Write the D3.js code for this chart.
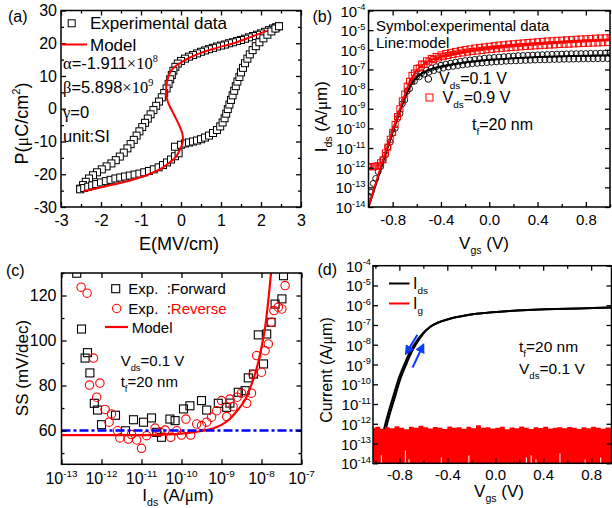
<!DOCTYPE html>
<html><head><meta charset="utf-8">
<script src="https://cdn.jsdelivr.net/npm/d3@7"></script>
<style>body{margin:0;background:#fff}svg{display:block}text{font-family:"Liberation Sans",Arial,sans-serif;white-space:pre}</style>
</head><body>
<svg id="c" width="612" height="508"></svg>
<script>
// ---------- Panel (a): P-E loop ----------
const aUpperE=[2.45,2.38,2.3,2.2,2.1,2.0,1.9,1.8,1.7,1.6,1.5,1.4,1.3,1.2,1.1,1.0,0.9,0.8,0.7,0.6,0.5,0.4,0.3,0.2,0.1,0.0,-0.08,-0.14,-0.19,-0.23,-0.27,-0.31,-0.36,-0.42,-0.48,-0.55,-0.62,-0.69,-0.76,-0.83,-0.9,-0.97,-1.04,-1.11,-1.18,-1.26,-1.34,-1.43,-1.53,-1.63,-1.74,-1.86,-1.98,-2.1,-2.2,-2.3,-2.38,-2.45,-2.52];
const aUpperP=[25.2,24.9,24.5,24.0,23.5,23.0,22.6,22.2,21.8,21.4,21.0,20.7,20.3,20.0,19.6,19.3,19.0,18.6,18.2,17.8,17.4,16.9,16.4,15.9,15.3,14.6,13.8,12.8,11.6,10.3,9.0,7.6,6.2,4.8,3.5,2.2,0.9,-0.4,-1.7,-3.0,-4.3,-5.6,-6.9,-8.2,-9.5,-10.8,-12.1,-13.4,-14.6,-15.7,-16.7,-17.6,-18.5,-19.4,-20.3,-21.3,-22.3,-23.3,-24.4];
const aLowerE=[-2.52,-2.42,-2.32,-2.22,-2.12,-2.0,-1.88,-1.76,-1.64,-1.52,-1.4,-1.28,-1.16,-1.04,-0.92,-0.8,-0.68,-0.56,-0.45,-0.35,-0.25,-0.15,-0.06,-0.15,0.0,0.1,0.2,0.3,0.4,0.5,0.6,0.7,0.8,0.9,0.98,1.04,1.09,1.13,1.17,1.21,1.25,1.29,1.33,1.37,1.41,1.46,1.5,1.55,1.6,1.66,1.72,1.79,1.87,1.96,2.06,2.16,2.26,2.36,2.45];
const aLowerP=[-24.6,-24.2,-23.8,-23.4,-23.0,-22.5,-22.1,-21.7,-21.3,-21.0,-20.7,-20.4,-20.1,-19.8,-19.4,-19.0,-18.5,-17.9,-17.2,-16.4,-15.5,-14.5,-13.6,-11.6,-11.0,-10.6,-10.3,-10.0,-9.7,-9.3,-8.8,-8.2,-7.4,-6.5,-5.4,-4.2,-2.9,-1.5,-0.1,1.3,2.7,4.1,5.5,6.9,8.3,9.7,11.1,12.5,13.9,15.3,16.6,17.9,19.1,20.3,21.5,22.6,23.6,24.5,25.2];
const aModelE=[-2.44,-2.0,-1.5,-1.19,-0.8,-0.5,-0.36,-0.2,-0.1,-0.03,0.03,0.05,0.03,-0.03,-0.11,-0.2,-0.28,-0.34,-0.37,-0.37,-0.34,-0.28,-0.18,-0.03,0.2,0.48,0.9,1.31,1.7,2.14];
const aModelP=[-25.2,-24.0,-22.6,-21.6,-20.0,-18.3,-17.1,-15.6,-14.2,-12.5,-10.8,-9.5,-7.4,-5.5,-3.4,-1.2,0.7,2.5,4.5,6.5,8.7,10.9,12.6,13.9,15.5,17.0,18.6,20.0,21.7,23.8];
const aXTicks=[-3,-2,-1,0,1,2,3];
const aYTicks=[-30,-20,-10,0,10,20,30];

// ---------- Panel (b): transfer curves (log10 of Ids, A/um) ----------
const bVa=[-1.00,-0.96,-0.92,-0.88,-0.84,-0.80,-0.76,-0.72,-0.68,-0.64,-0.60,-0.56,-0.52,-0.48,-0.44,-0.40,-0.36,-0.32,-0.28,-0.24,-0.20,-0.16,-0.12,-0.08,-0.04,0.00,0.04,0.08,0.12,0.16,0.20,0.24,0.28,0.32,0.36,0.40,0.44,0.48,0.52,0.56,0.60,0.64,0.68,0.72,0.76,0.80,0.84,0.88,0.92,0.96,1.00];
const bVb=[-0.98,-0.94,-0.90,-0.86,-0.82,-0.78,-0.74,-0.70,-0.66,-0.62,-0.58,-0.54,-0.50,-0.46,-0.42,-0.38,-0.34,-0.30,-0.26,-0.22,-0.18,-0.14,-0.10,-0.06,-0.02,0.02,0.06,0.10,0.14,0.18,0.22,0.26,0.30,0.34,0.38,0.42,0.46,0.50,0.54,0.58,0.62,0.66,0.70,0.74,0.78,0.82,0.86,0.90,0.94,0.98];
const bExp01a=[-13.45,-12.8,-12.2,-11.6,-10.95,-10.25,-9.5,-8.75,-8.1,-7.62,-7.35,-7.17,-7.04,-6.94,-6.86,-6.79,-6.73,-6.68,-6.63,-6.59,-6.55,-6.52,-6.49,-6.46,-6.43,-6.41,-6.39,-6.37,-6.35,-6.33,-6.32,-6.30,-6.29,-6.28,-6.27,-6.26,-6.25,-6.24,-6.23,-6.22,-6.22,-6.21,-6.20,-6.20,-6.19,-6.19,-6.18,-6.18,-6.17,-6.17,-6.16];
const bExp01b=[-13.25,-12.55,-11.95,-11.35,-10.7,-10.0,-9.25,-8.55,-7.98,-7.6,-7.38,-7.24,-7.14,-7.06,-6.99,-6.93,-6.88,-6.84,-6.80,-6.77,-6.74,-6.71,-6.69,-6.67,-6.65,-6.63,-6.61,-6.60,-6.58,-6.57,-6.56,-6.55,-6.54,-6.53,-6.52,-6.51,-6.51,-6.50,-6.49,-6.49,-6.48,-6.48,-6.47,-6.47,-6.46,-6.46,-6.46,-6.45,-6.45,-6.45];
const bExp09a=[-11.95,-11.95,-11.9,-11.6,-10.95,-10.2,-9.4,-8.6,-7.85,-7.3,-6.95,-6.72,-6.56,-6.44,-6.34,-6.26,-6.19,-6.13,-6.08,-6.03,-5.99,-5.95,-5.91,-5.88,-5.85,-5.82,-5.79,-5.76,-5.74,-5.71,-5.69,-5.67,-5.65,-5.63,-5.61,-5.59,-5.57,-5.55,-5.54,-5.52,-5.51,-5.49,-5.48,-5.46,-5.45,-5.44,-5.42,-5.41,-5.40,-5.39,-5.38];
const bExp09b=[-11.95,-11.92,-11.75,-11.25,-10.55,-9.8,-9.0,-8.25,-7.6,-7.18,-6.92,-6.74,-6.61,-6.5,-6.42,-6.35,-6.29,-6.24,-6.2,-6.16,-6.12,-6.09,-6.06,-6.03,-6.0,-5.98,-5.95,-5.93,-5.91,-5.89,-5.87,-5.85,-5.83,-5.82,-5.8,-5.79,-5.77,-5.76,-5.75,-5.73,-5.72,-5.71,-5.7,-5.69,-5.68,-5.67,-5.66,-5.65,-5.64,-5.63];
const bModelV=[-1,-0.95,-0.9,-0.85,-0.8,-0.75,-0.7,-0.65,-0.6,-0.55,-0.5,-0.45,-0.4,-0.3,-0.2,-0.1,0,0.2,0.4,0.6,0.8,1.0];
const bModel01=[-14,-13.05,-12.1,-11.15,-10.2,-9.3,-8.45,-7.8,-7.4,-7.17,-7.03,-6.93,-6.85,-6.73,-6.64,-6.57,-6.51,-6.43,-6.37,-6.33,-6.3,-6.28];
const bModel09=[-14,-13.0,-12.0,-11.05,-10.1,-9.2,-8.3,-7.55,-7.05,-6.77,-6.58,-6.45,-6.35,-6.2,-6.08,-5.98,-5.9,-5.77,-5.67,-5.59,-5.52,-5.47];
const bXTicks=[-0.8,-0.4,0,0.4,0.8];
const bXMinor=[-1.0,-0.6,-0.2,0.2,0.6,1.0];
const decExp=[-14,-13,-12,-11,-10,-9,-8,-7,-6,-5,-4];

// ---------- Panel (c): SS vs Ids ----------
const cFwdLogI=[-12.62,-12.5,-12.41,-12.35,-12.29,-12.18,-12.1,-12.0,-11.65,-11.4,-11.2,-10.95,-10.75,-10.62,-10.5,-10.29,-10.16,-9.95,-9.79,-9.5,-9.37,-9.08,-8.87,-8.79,-8.58,-8.41,-8.33,-8.2,-8.08,-7.95,-7.87,-7.76,-7.66,-7.49,-7.45];
const cFwdSS=[129.9,105.1,92.2,94.6,85.6,72.1,69.1,62.6,66.8,59.9,64.8,63.7,65.6,59.2,57.0,65.1,64.4,69.6,71.0,73.3,69.1,72.1,70.3,72.2,77.0,77.7,83.4,85.1,102.5,89.6,102.9,108.1,116.2,118.5,128.8];
const cRevLogI=[-12.51,-12.36,-12.2,-12.3,-12.04,-12.12,-11.91,-11.81,-11.75,-11.6,-11.54,-11.33,-11.25,-11.12,-11.0,-10.87,-10.66,-10.54,-10.41,-10.27,-10.12,-10.0,-9.89,-9.77,-9.62,-9.5,-9.37,-9.25,-9.12,-9.0,-8.87,-8.79,-8.71,-8.61,-8.5,-8.37,-8.25,-8.21,-8.12,-8.0,-7.91,-7.83,-7.75,-7.69,-7.58,-7.49,-7.41];
const cRevSS=[123.7,121.0,92.2,80.2,81.1,74.8,69.4,63.7,67.4,59.9,56.7,56.2,58.2,55.8,52.1,57.7,61.1,59.4,60.2,57.0,59.9,58.0,65.1,58.0,62.9,62.2,63.7,65.9,68.8,73.3,66.2,74.0,70.6,74.8,76.6,72.1,76.6,84.8,93.3,85.9,95.5,98.5,108.1,113.3,114.8,114.0,124.4];
const cModelLogI=[-13,-12,-11,-10.5,-10,-9.5,-9.2,-9.0,-8.8,-8.6,-8.4,-8.2,-8.1,-8.0,-7.9,-7.8,-7.74];
const cModelSS=[58,58,58,58.2,58.6,59.8,61,62.5,65,69,74,83,89,97,107,123,134];
const cRef=60;
const cXExp=[-13,-12,-11,-10,-9,-8,-7];
const cYTicks=[60,80,100,120];
const cYMinor=[50,70,90,110,130];

// ---------- Panel (d): Ids and Ig ----------
const dVf=[-0.95,-0.91,-0.87,-0.83,-0.79,-0.74,-0.70,-0.66,-0.62,-0.58,-0.53,-0.47,-0.40,-0.33,-0.26,-0.19,-0.10,0.01,0.12,0.23,0.37,0.51,0.70,0.97];
const dIdsF=[-13.6,-12.2,-11.3,-10.5,-9.7,-8.95,-8.4,-7.96,-7.6,-7.3,-7.05,-6.86,-6.72,-6.61,-6.53,-6.46,-6.4,-6.34,-6.29,-6.25,-6.22,-6.19,-6.16,-6.12];
const dVr=[-0.965,-0.925,-0.885,-0.845,-0.805,-0.755,-0.715,-0.672,-0.63,-0.585,-0.535,-0.47,-0.40,-0.33,-0.26,-0.19,-0.10,0.01,0.12,0.23,0.37,0.51,0.70,0.97];
const dIdsR=[-13.6,-12.2,-11.3,-10.5,-9.7,-8.95,-8.4,-7.96,-7.6,-7.3,-7.05,-6.86,-6.72,-6.61,-6.53,-6.46,-6.4,-6.34,-6.29,-6.25,-6.22,-6.19,-6.16,-6.12];
const dIgV=[-1.02,-0.98,-0.94,-0.90,-0.86,-0.82,-0.78,-0.74,-0.70,-0.66,-0.62,-0.58,-0.54,-0.50,-0.46,-0.42,-0.38,-0.34,-0.30,-0.26,-0.22,-0.18,-0.14,-0.10,-0.06,-0.02,0.02,0.06,0.10,0.14,0.18,0.22,0.26,0.30,0.34,0.38,0.42,0.46,0.50,0.54,0.58,0.62,0.66,0.70,0.74,0.78,0.82,0.86,0.90,0.94,0.97];
const dIgTop=[-12.2,-12.15,-12.25,-12.18,-12.22,-12.12,-12.2,-12.28,-12.15,-12.2,-12.1,-12.18,-12.24,-12.16,-12.2,-12.26,-12.14,-12.2,-12.18,-12.25,-12.15,-12.22,-12.08,-12.2,-12.17,-12.24,-12.2,-12.15,-12.28,-12.19,-12.22,-12.14,-12.2,-12.26,-12.18,-12.21,-12.15,-12.24,-12.2,-12.17,-12.23,-12.16,-12.2,-12.27,-12.18,-12.22,-12.15,-12.2,-12.25,-12.19,-12.2];
const dGapV=[-0.95,-0.75,-0.72,-0.45,-0.22,0.26,0.30,0.34,0.54,0.75,0.88];
const dGapTop=[-13.6,-13.35,-13.8,-13.7,-13.6,-13.7,-13.6,-13.8,-13.5,-13.8,-13.7];
const dArrowV=[[-0.65,-0.745],[-0.69,-0.60]];
const dArrowI=[[-7.5,-8.45],[-9.15,-8.0]];

// ---------- helpers ----------
const svg=d3.select('#c');
svg.append('rect').attr('width',612).attr('height',508).attr('fill','#fff');
const SERIF='"Liberation Serif","Times New Roman",serif';
const P10=e=>Math.pow(10,e);

function rich(g,x,y,parts,size,opt){
  opt=opt||{};
  const t=g.append('text').attr('x',x).attr('y',y).attr('font-size',size).attr('fill',opt.fill||'#000');
  if(opt.anchor) t.attr('text-anchor',opt.anchor);
  if(opt.transform) t.attr('transform',opt.transform);
  let off=0;
  parts.forEach(p=>{
    const s=t.append('tspan').text(p.t);
    let target=0,fs=null;
    if(p.sub){target=0.32*size;fs=0.62*size;}
    if(p.sup){target=-0.42*size;fs=(p.ss||0.62)*size;}
    s.attr('dy',target-off);off=target;
    if(fs) s.attr('font-size',fs);
    if(p.c) s.attr('fill',p.c);
    if(p.f) s.attr('font-family',p.f);
  });
  return t;
}

function frame(g,x,y,o){
  const [x0,x1]=x.range(),[yb,yt]=y.range();
  const mk=(axisFn,tr,vals,size,fmt,pad)=>{
    const a=axisFn.tickValues(vals).tickSizeInner(-size).tickSizeOuter(0).tickPadding(pad||6).tickFormat(fmt||(()=>''));
    const gg=g.append('g').attr('transform',tr).call(a);
    gg.select('.domain').remove();
    gg.selectAll('line').attr('stroke','#000').attr('stroke-width',1.3);
    gg.selectAll('text').attr('font-size',o.fs||15).attr('font-family','"Liberation Sans",Arial,sans-serif').attr('fill','#000');
    return gg;
  };
  mk(d3.axisBottom(x),`translate(0,${yb})`,o.xMajor,5,o.xFmt,o.xPad);
  mk(d3.axisTop(x),`translate(0,${yt})`,o.xMajor,5);
  if(o.xMinor){mk(d3.axisBottom(x),`translate(0,${yb})`,o.xMinor,3);mk(d3.axisTop(x),`translate(0,${yt})`,o.xMinor,3);}
  mk(d3.axisLeft(y),`translate(${x0},0)`,o.yMajor,5,o.yFmt,o.yPad);
  mk(d3.axisRight(y),`translate(${x1},0)`,o.yMajor,5);
  if(o.yMinor){mk(d3.axisLeft(y),`translate(${x0},0)`,o.yMinor,3);mk(d3.axisRight(y),`translate(${x1},0)`,o.yMinor,3);}
  g.append('rect').attr('x',x0).attr('y',yt).attr('width',x1-x0).attr('height',yb-yt)
    .attr('fill','none').attr('stroke','#000').attr('stroke-width',1.5);
}
function clip(id,x,y){
  const [x0,x1]=x.range(),[yb,yt]=y.range();
  svg.append('clipPath').attr('id',id).append('rect').attr('x',x0).attr('y',yt).attr('width',x1-x0).attr('height',yb-yt);
}
const fmtLin=d=>String(d).replace('−','-');
const fmt1=d=>d3.format('.1f')(d).replace('−','-');

// ================= (a) =================
{
  const x=d3.scaleLinear().domain([-3,3]).range([61,301]);
  const y=d3.scaleLinear().domain([-30,30]).range([207,10.5]);
  const g=svg.append('g');
  clip('ca',x,y);
  const pg=g.append('g').attr('clip-path','url(#ca)');
  const sq=(E,P)=>E.map((e,i)=>[e,P[i]]);
  const s=7;
  pg.selectAll('rect.u').data(sq(aUpperE,aUpperP)).join('rect')
    .attr('x',d=>x(d[0])-s/2).attr('y',d=>y(d[1])-s/2).attr('width',s).attr('height',s)
    .attr('fill','#fff').attr('stroke','#000').attr('stroke-width',1);
  pg.selectAll('rect.l').data(sq(aLowerE,aLowerP)).join('rect')
    .attr('x',d=>x(d[0])-s/2).attr('y',d=>y(d[1])-s/2).attr('width',s).attr('height',s)
    .attr('fill','#fff').attr('stroke','#000').attr('stroke-width',1);
  pg.append('path').datum(sq(aModelE,aModelP))
    .attr('d',d3.line().x(d=>x(d[0])).y(d=>y(d[1])).curve(d3.curveCatmullRom))
    .attr('fill','none').attr('stroke','#ff0000').attr('stroke-width',2);
  frame(g,x,y,{xMajor:aXTicks,xMinor:[-2.5,-1.5,-0.5,0.5,1.5,2.5],yMajor:aYTicks,yMinor:[-25,-15,-5,5,15,25],
    xFmt:fmtLin,yFmt:fmtLin,xPad:8,yPad:4,fs:16});
  g.append('rect').attr('x',71.7-3.5).attr('y',23.3-3.5).attr('width',7).attr('height',7).attr('fill','#fff').attr('stroke','#000');
  g.append('text').attr('x',90).attr('y',29).attr('font-size',17).text('Experimental data');
  g.append('line').attr('x1',61).attr('x2',87).attr('y1',44.5).attr('y2',44.5).attr('stroke','#ff0000').attr('stroke-width',2);
  g.append('text').attr('x',90).attr('y',50.5).attr('font-size',17).text('Model');
  rich(g,63,69,[{t:'α',f:SERIF},{t:'=-1.911'},{t:'×10',f:SERIF},{t:'8',sup:true,f:SERIF}],16.5);
  rich(g,63,93,[{t:'β',f:SERIF},{t:'=5.898'},{t:'×10',f:SERIF},{t:'9',sup:true,f:SERIF}],16.5);
  rich(g,63,118,[{t:'γ',f:SERIF},{t:'=0'}],16.5);
  g.append('text').attr('x',63).attr('y',142).attr('font-size',16.5).text('unit:SI');
  g.append('text').attr('x',8).attr('y',22).attr('font-size',16).text('(a)');
  g.append('text').attr('x',179).attr('y',250).attr('font-size',18).attr('text-anchor','middle').text('E(MV/cm)');
  rich(g,0,0,[{t:'P('},{t:'μ',f:SERIF},{t:'C/cm'},{t:'2',sup:true},{t:')'}],18,{anchor:'middle',transform:'translate(28,123.5) rotate(-90)'});
}

// ================= (b) =================
{
  const x=d3.scaleLinear().domain([-1,1]).range([368.5,610]);
  const y=d3.scaleLog().domain([1e-14,1e-4]).range([207,10.5]);
  const g=svg.append('g');
  clip('cb',x,y);
  const pg=g.append('g').attr('clip-path','url(#cb)');
  const circ=(V,L)=>V.map((v,i)=>[v,L[i]]);
  [circ(bVa,bExp01a),circ(bVb,bExp01b)].forEach(arr=>{
    pg.append('g').selectAll('circle').data(arr).join('circle')
      .attr('cx',d=>x(d[0])).attr('cy',d=>y(P10(d[1]))).attr('r',3)
      .attr('fill','none').attr('stroke','#000').attr('stroke-width',0.9);
  });
  [circ(bVa,bExp09a),circ(bVb,bExp09b)].forEach(arr=>{
    pg.append('g').selectAll('rect').data(arr).join('rect')
      .attr('x',d=>x(d[0])-3).attr('y',d=>y(P10(d[1]))-3).attr('width',6).attr('height',6)
      .attr('fill','none').attr('stroke','#ff0000').attr('stroke-width',1);
  });
  const ln=d3.line().x(d=>x(d[0])).y(d=>y(P10(d[1]))).curve(d3.curveCatmullRom);
  pg.append('path').datum(circ(bModelV,bModel01)).attr('d',ln).attr('fill','none').attr('stroke','#000').attr('stroke-width',2);
  pg.append('path').datum(circ(bModelV,bModel09)).attr('d',ln).attr('fill','none').attr('stroke','#ff0000').attr('stroke-width',2);
  frame(g,x,y,{xMajor:bXTicks,xMinor:bXMinor,yMajor:decExp.map(P10),xFmt:fmt1,xPad:7,fs:15});
  decExp.forEach(e=>rich(g,365.5,y(P10(e))+6,[{t:'10'},{t:String(e),sup:true}],15,{anchor:'end'}));
  g.append('text').attr('x',376).attr('y',31).attr('font-size',15).text('Symbol:experimental data');
  g.append('text').attr('x',376).attr('y',48).attr('font-size',15).text('Line:model');
  g.append('circle').attr('cx',428.3).attr('cy',79).attr('r',3.3).attr('fill','none').attr('stroke','#000');
  rich(g,439,84,[{t:'V'},{t:'ds',sub:true},{t:'=0.1 V'}],16);
  g.append('rect').attr('x',426).attr('y',94).attr('width',7).attr('height',7).attr('fill','none').attr('stroke','#ff0000');
  rich(g,442.5,103,[{t:'V'},{t:'ds',sub:true},{t:'=0.9 V'}],16);
  rich(g,472,130,[{t:'t'},{t:'f',sub:true},{t:'=20 nm'}],16);
  g.append('text').attr('x',312.5).attr('y',22).attr('font-size',16).text('(b)');
  rich(g,484,249,[{t:'V'},{t:'gs',sub:true},{t:' (V)'}],17,{anchor:'middle'});
  rich(g,0,0,[{t:'I'},{t:'ds',sub:true},{t:' (A/'},{t:'μ',f:SERIF},{t:'m)'}],17,{anchor:'middle',transform:'translate(327,116.7) rotate(-90)'});
}

// ================= (c) =================
{
  const x=d3.scaleLog().domain([1e-13,1e-7]).range([61.5,301.5]);
  const y=d3.scaleLinear().domain([45,130]).range([464.3,273]);
  const g=svg.append('g');
  clip('cc',x,y);
  const pg=g.append('g').attr('clip-path','url(#cc)');
  const pr=(L,S)=>L.map((l,i)=>[l,S[i]]);
  pg.append('g').selectAll('rect').data(pr(cFwdLogI,cFwdSS)).join('rect')
    .attr('x',d=>x(P10(d[0]))-4).attr('y',d=>y(d[1])-4).attr('width',8).attr('height',8)
    .attr('fill','none').attr('stroke','#000').attr('stroke-width',1.1);
  pg.append('g').selectAll('circle').data(pr(cRevLogI,cRevSS)).join('circle')
    .attr('cx',d=>x(P10(d[0]))).attr('cy',d=>y(d[1])).attr('r',4.2)
    .attr('fill','none').attr('stroke','#ff0000').attr('stroke-width',1.1);
  pg.append('path').datum(pr(cModelLogI,cModelSS))
    .attr('d',d3.line().x(d=>x(P10(d[0]))).y(d=>y(d[1])).curve(d3.curveMonotoneX))
    .attr('fill','none').attr('stroke','#ff0000').attr('stroke-width',2.2);
  pg.append('line').attr('x1',x.range()[0]).attr('x2',x.range()[1]).attr('y1',y(cRef)).attr('y2',y(cRef))
    .attr('stroke','#0000ff').attr('stroke-width',2.5).attr('stroke-dasharray','9,3,3,3');
  frame(g,x,y,{xMajor:cXExp.map(P10),yMajor:cYTicks,yMinor:cYMinor,yFmt:fmtLin,yPad:5,fs:16});
  cXExp.forEach(e=>rich(g,x(P10(e)),484,[{t:'10'},{t:String(e),sup:true}],16,{anchor:'middle'}));
  g.append('rect').attr('x',115.7-4).attr('y',288.7-4).attr('width',8).attr('height',8).attr('fill','none').attr('stroke','#000').attr('stroke-width',1.1);
  g.append('text').attr('x',128.3).attr('y',294).attr('font-size',15).text('Exp.  :Forward');
  g.append('circle').attr('cx',116.7).attr('cy',308.5).attr('r',4.2).attr('fill','none').attr('stroke','#ff0000').attr('stroke-width',1.1);
  rich(g,128.3,314,[{t:'Exp.  :'},{t:'Reverse',c:'#ff0000'}],15);
  g.append('line').attr('x1',105).attr('x2',128).attr('y1',327).attr('y2',327).attr('stroke','#ff0000').attr('stroke-width',2.2);
  g.append('text').attr('x',131.7).attr('y',332.5).attr('font-size',15).text('Model');
  rich(g,120.7,365.7,[{t:'V'},{t:'ds',sub:true},{t:'=0.1 V'}],15);
  rich(g,120.7,387.3,[{t:'t'},{t:'f',sub:true},{t:'=20 nm'}],15);
  g.append('text').attr('x',6).attr('y',276).attr('font-size',16).text('(c)');
  rich(g,178,501,[{t:'I'},{t:'ds',sub:true},{t:' (A/'},{t:'μ',f:SERIF},{t:'m)'}],17,{anchor:'middle'});
  g.append('text').attr('font-size',17).attr('text-anchor','middle').attr('transform','translate(28,368) rotate(-90)').text('SS (mV/dec)');
}

// ================= (d) =================
{
  const x=d3.scaleLinear().domain([-1.02,0.97]).range([373,611.5]);
  const y=d3.scaleLog().domain([1e-14,1e-4]).range([463.3,265.7]);
  const g=svg.append('g');
  clip('cd',x,y);
  const pg=g.append('g').attr('clip-path','url(#cd)');
  const pr=(V,L)=>V.map((v,i)=>[v,L[i]]);
  const ln=d3.line().x(d=>x(d[0])).y(d=>y(P10(d[1]))).curve(d3.curveCatmullRom);
  pg.append('path').datum(pr(dVf,dIdsF)).attr('d',ln).attr('fill','none').attr('stroke','#000').attr('stroke-width',2);
  pg.append('path').datum(pr(dVr,dIdsR)).attr('d',ln).attr('fill','none').attr('stroke','#000').attr('stroke-width',2);
  pg.append('path').datum(pr(dIgV,dIgTop))
    .attr('d',d3.area().x(d=>x(d[0])).y0(y(1e-14)).y1(d=>y(P10(d[1]))).curve(d3.curveStep))
    .attr('fill','#ff0000');
  pg.append('g').selectAll('line').data(pr(dGapV,dGapTop)).join('line')
    .attr('x1',d=>x(d[0])).attr('x2',d=>x(d[0])).attr('y1',y(1e-14)).attr('y2',d=>y(P10(d[1])))
    .attr('stroke','#fff').attr('stroke-width',1);
  const defs=svg.append('defs');
  defs.append('marker').attr('id','ah').attr('viewBox','0 0 10 10').attr('refX',8).attr('refY',5)
    .attr('markerWidth',5).attr('markerHeight',5).attr('orient','auto')
    .append('path').attr('d','M0,0 L10,5 L0,10 Z').attr('fill','#0a3cff');
  dArrowV.forEach((v,i)=>{
    g.append('line').attr('x1',x(v[0])).attr('y1',y(P10(dArrowI[i][0]))).attr('x2',x(v[1])).attr('y2',y(P10(dArrowI[i][1])))
      .attr('stroke','#0a3cff').attr('stroke-width',2).attr('marker-end','url(#ah)');
  });
  frame(g,x,y,{xMajor:bXTicks,xMinor:[-1.0,-0.6,-0.2,0.2,0.6],yMajor:decExp.map(P10),xFmt:fmt1,xPad:6,fs:15});
  decExp.forEach(e=>rich(g,371,y(P10(e))+6,[{t:'10'},{t:String(e),sup:true}],15,{anchor:'end'}));
  g.append('line').attr('x1',389).attr('x2',409.5).attr('y1',283.5).attr('y2',283.5).attr('stroke','#000').attr('stroke-width',2);
  rich(g,413,289,[{t:'I'},{t:'ds',sub:true}],16);
  g.append('line').attr('x1',389).attr('x2',409.5).attr('y1',303.5).attr('y2',303.5).attr('stroke','#ff0000').attr('stroke-width',2);
  rich(g,413,309,[{t:'I'},{t:'g',sub:true}],16);
  rich(g,519,352,[{t:'t'},{t:'f',sub:true},{t:'=20 nm'}],15.5);
  rich(g,519,374,[{t:'V'},{t:'ds',sub:true},{t:'=0.1 V'}],15.5);
  g.append('text').attr('x',317.5).attr('y',275).attr('font-size',16).text('(d)');
  rich(g,499,497,[{t:'V'},{t:'gs',sub:true},{t:' (V)'}],17,{anchor:'middle'});
  rich(g,0,0,[{t:'Current (A/'},{t:'μ',f:SERIF},{t:'m)'}],16,{anchor:'middle',transform:'translate(332,370) rotate(-90)'});
}
</script></body></html>
